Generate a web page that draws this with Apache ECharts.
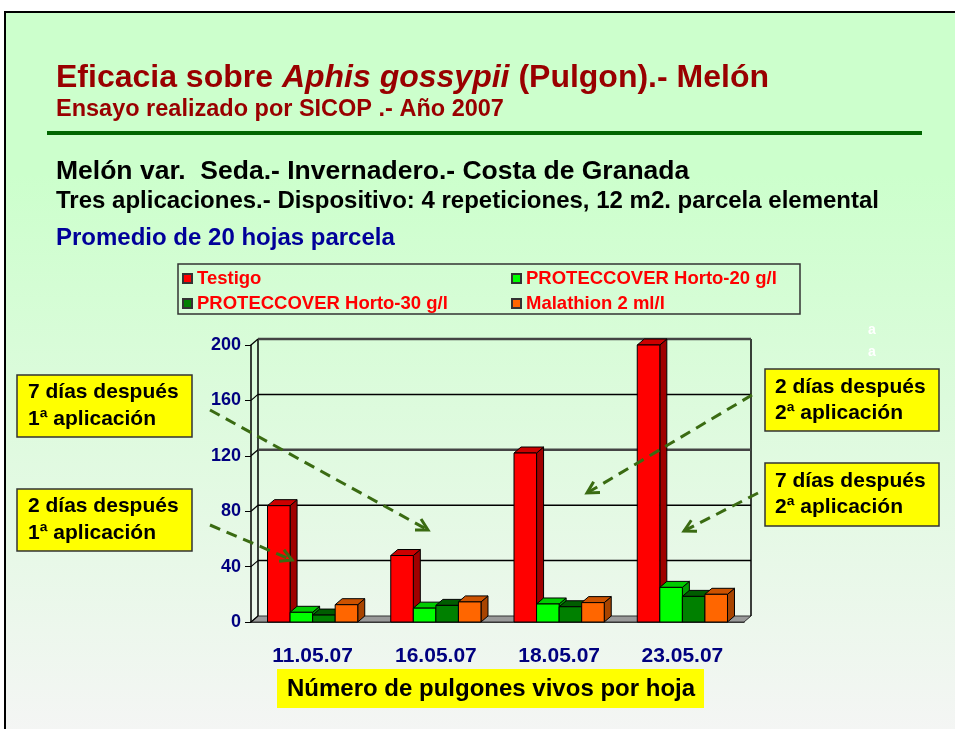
<!DOCTYPE html>
<html>
<head>
<meta charset="utf-8">
<script src="https://cdn.jsdelivr.net/npm/echarts@6/dist/echarts.min.js"></script>
<style>
  html, body { margin: 0; padding: 0; background: #fff; }
  #wrap { position: relative; width: 955px; height: 729px; overflow: hidden; }
  #slide {
    position: absolute; left: 4px; top: 11px; width: 960px; height: 730px;
    border: 2px solid #000;
    background: linear-gradient(to bottom, #ccffcc 0%, #ccffcc 22%, #f5f5f5 100%);
  }
  #chart { position: absolute; left: 0; top: 0; width: 955px; height: 729px; }
</style>
</head>
<body>
<div id="wrap">
  <div id="slide"></div>
  <div id="chart"></div>
</div>
<script>
// data
var categories = ['11.05.07', '16.05.07', '18.05.07', '23.05.07'];
var seriesNames = ['Testigo', 'PROTECCOVER Horto-20 g/l', 'PROTECCOVER Horto-30 g/l', 'Malathion 2 ml/l'];
var testigo = [84, 48, 122, 200];
var horto20 = [7, 10, 13, 25];
var horto30 = [5, 12, 11, 18.5];
var malathion = [12.5, 14.5, 14, 20];
var yTicks = [0, 40, 80, 120, 160, 200];

// front / top / side colours for the 3d bars
var faces = [
  ['#ff0000', '#cc0000', '#a00000'],
  ['#00ff00', '#00cc00', '#00a000'],
  ['#008000', '#005c00', '#004800'],
  ['#ff6600', '#cc5200', '#a84400']
];
var DX = 7, DY = 6;
var FONT = '"Liberation Sans", Arial';

function barRenderer(k) {
  return function (params, api) {
    var ci = api.value(0), v = api.value(1);
    var base = api.coord([ci, 0]);
    var top = api.coord([ci, v]);
    var cw = api.size([1, 0])[0];
    var bw = cw * 0.183;
    var x0 = base[0] - 2 * bw + k * bw;
    var x1 = x0 + bw;
    var yt = top[1], yb = base[1];
    var c = faces[k];
    var st = { stroke: '#000', lineWidth: 1 };
    return {
      type: 'group',
      children: [
        { type: 'polygon', shape: { points: [[x1, yt], [x1 + DX, yt - DY], [x1 + DX, yb - DY], [x1, yb]] },
          style: Object.assign({ fill: c[2] }, st) },
        { type: 'polygon', shape: { points: [[x0, yt], [x0 + DX, yt - DY], [x1 + DX, yt - DY], [x1, yt]] },
          style: Object.assign({ fill: c[1] }, st) },
        { type: 'rect', shape: { x: x0, y: yt, width: bw, height: yb - yt },
          style: Object.assign({ fill: c[0] }, st) }
      ]
    };
  };
}

function frameRenderer(params, api) {
  var v = api.value(1);
  var cw = api.size([1, 0])[0];
  var left = api.coord([0, v]);
  var xL = left[0] - cw / 2;
  var xR = api.coord([categories.length - 1, v])[0] + cw / 2;
  var y = left[1];
  var heavy = (v === 120 || v === 200);
  var children = [];
  if (v === 0) {
    var yTop = api.coord([0, yTicks[yTicks.length - 1]])[1];
    children.push({ type: 'polygon', shape: { points: [[xL, y], [xR, y], [xR + DX, y - DY], [xL + DX, y - DY]] },
      style: { fill: '#9a9a9a', stroke: '#333', lineWidth: 1 } });
    children.push({ type: 'line', shape: { x1: xL + DX, y1: yTop - DY, x2: xL + DX, y2: y - DY },
      style: { stroke: '#000', lineWidth: 1.5 } });
    children.push({ type: 'line', shape: { x1: xR + DX, y1: yTop - DY, x2: xR + DX, y2: y - DY },
      style: { stroke: '#000', lineWidth: 1.5 } });
  } else {
    children.push({ type: 'line', shape: { x1: xL + DX, y1: y - DY, x2: xR + DX, y2: y - DY },
      style: { stroke: heavy ? '#444' : '#000', lineWidth: heavy ? 2.5 : 1.5 } });
  }
  children.push({ type: 'line', shape: { x1: xL, y1: y, x2: xL + DX, y2: y - DY },
    style: { stroke: '#000', lineWidth: 1.2 } });
  return { type: 'group', children: children };
}

function arrow(x1, y1, x2, y2) {
  var a = Math.atan2(y2 - y1, x2 - x1), L = 13, s = 0.5;
  var p1 = [x2 - L * Math.cos(a - s), y2 - L * Math.sin(a - s)];
  var p2 = [x2 - L * Math.cos(a + s), y2 - L * Math.sin(a + s)];
  var col = '#3a6b12';
  return [
    { type: 'line', z: 50, shape: { x1: x1, y1: y1, x2: x2, y2: y2 },
      style: { stroke: col, lineWidth: 3, lineDash: [11, 7] } },
    { type: 'polyline', z: 50, shape: { points: [p1, [x2, y2], p2] },
      style: { stroke: col, lineWidth: 3, fill: null } }
  ];
}

function noteBox(x, y, w, h, l1, l2, tx, lh) {
  return [
    { type: 'rect', z: 40, shape: { x: x, y: y, width: w, height: h },
      style: { fill: '#ffff00', stroke: '#333', lineWidth: 1.5 } },
    { type: 'text', z: 41, x: tx, y: y + h / 2 - lh / 2,
      style: { text: l1, fill: '#000', font: 'bold 21px ' + FONT, verticalAlign: 'middle' } },
    { type: 'text', z: 41, x: tx, y: y + h / 2 + lh / 2,
      style: { text: l2, fill: '#000', font: 'bold 21px ' + FONT, verticalAlign: 'middle' } }
  ];
}

function txt(x, y, s, font, color) {
  return { type: 'text', x: x, y: y, z: 30,
    style: { text: s, font: font, fill: color, verticalAlign: 'middle' } };
}

var graphics = [
  { type: 'text', x: 56, y: 78, z: 30, style: {
      text: '{n|Eficacia sobre }{i|Aphis gossypii}{n| (Pulgon).- Melón}',
      verticalAlign: 'middle',
      rich: {
        n: { font: 'bold 32px ' + FONT, fill: '#990000' },
        i: { font: 'italic bold 32px ' + FONT, fill: '#990000' }
      } } },
  txt(56, 110, 'Ensayo realizado por SICOP .- Año 2007', 'bold 23.5px ' + FONT, '#990000'),
  { type: 'line', z: 30, shape: { x1: 47, y1: 133, x2: 922, y2: 133 }, style: { stroke: '#006600', lineWidth: 4 } },
  txt(56, 172, 'Melón var.  Seda.- Invernadero.- Costa de Granada', 'bold 26.5px ' + FONT, '#000'),
  txt(56, 201, 'Tres aplicaciones.- Dispositivo: 4 repeticiones, 12 m2. parcela elemental', 'bold 24px ' + FONT, '#000'),
  txt(56, 238, 'Promedio de 20 hojas parcela', 'bold 24px ' + FONT, '#000099'),
  { type: 'rect', z: 5, shape: { x: 178, y: 264, width: 622, height: 50 },
    style: { fill: 'rgba(0,0,0,0)', stroke: '#333', lineWidth: 1.5 } },
  txt(868, 330, 'a', 'bold 14px ' + FONT, '#fff'),
  txt(868, 352, 'a', 'bold 14px ' + FONT, '#fff'),
  { type: 'rect', z: 30, shape: { x: 277, y: 669, width: 427, height: 39 }, style: { fill: '#ffff00' } },
  txt(287, 689, 'Número de pulgones vivos por hoja', 'bold 24px ' + FONT, '#000')
]
  .concat(noteBox(17, 375, 175, 62, '7 días después', '1ª aplicación', 28, 27))
  .concat(noteBox(17, 489, 175, 62, '2 días después', '1ª aplicación', 28, 27))
  .concat(noteBox(765, 369, 174, 62, '2 días después', '2ª aplicación', 775, 26))
  .concat(noteBox(765, 463, 174, 63, '7 días después', '2ª aplicación', 775, 26))
  .concat(arrow(210, 410, 428, 530))
  .concat(arrow(210, 525, 292, 560))
  .concat(arrow(752, 395, 587, 493))
  .concat(arrow(758, 493, 684, 531));

var allValues = [testigo, horto20, horto30, malathion];
var series = [{
  type: 'custom', name: 'frame', z: 1, silent: true,
  renderItem: frameRenderer,
  data: yTicks.map(function (v) { return [0, v]; })
}];
allValues.forEach(function (vals, k) {
  series.push({
    type: 'custom', name: seriesNames[k], z: 2 + k,
    itemStyle: { color: faces[k][0], borderColor: '#333', borderWidth: 1 },
    renderItem: barRenderer(k),
    encode: { x: 0, y: 1 },
    data: vals.map(function (v, i) { return [i, v]; })
  });
});

var legendText = { color: '#ff0000', fontWeight: 'bold', fontSize: 18.5, fontFamily: FONT };
var chart = echarts.init(document.getElementById('chart'));
chart.setOption({
  animation: false,
  backgroundColor: 'transparent',
  grid: { left: 251, right: 211, top: 345, bottom: 107 },
  legend: [
    { orient: 'vertical', left: 177, top: 264, itemWidth: 9, itemHeight: 9, itemGap: 6,
      icon: 'rect', textStyle: legendText, data: [seriesNames[0], seriesNames[2]] },
    { orient: 'vertical', left: 506, top: 264, itemWidth: 9, itemHeight: 9, itemGap: 6,
      icon: 'rect', textStyle: legendText, data: [seriesNames[1], seriesNames[3]] }
  ],
  xAxis: {
    type: 'category', data: categories,
    axisLine: { lineStyle: { color: '#000', width: 1.5 } },
    axisTick: { length: 6, lineStyle: { color: '#000' } },
    axisLabel: { margin: 24, color: '#000080', fontWeight: 'bold', fontSize: 21, fontFamily: FONT },
    splitLine: { show: false }
  },
  yAxis: {
    type: 'value', min: 0, max: 200, interval: 40,
    axisLine: { show: true, lineStyle: { color: '#000', width: 1.5 } },
    axisTick: { show: true, length: 6, lineStyle: { color: '#000' } },
    axisLabel: { margin: 10, color: '#000080', fontWeight: 'bold', fontSize: 18, fontFamily: FONT },
    splitLine: { show: false }
  },
  graphic: graphics,
  series: series
});
</script>
</body>
</html>
